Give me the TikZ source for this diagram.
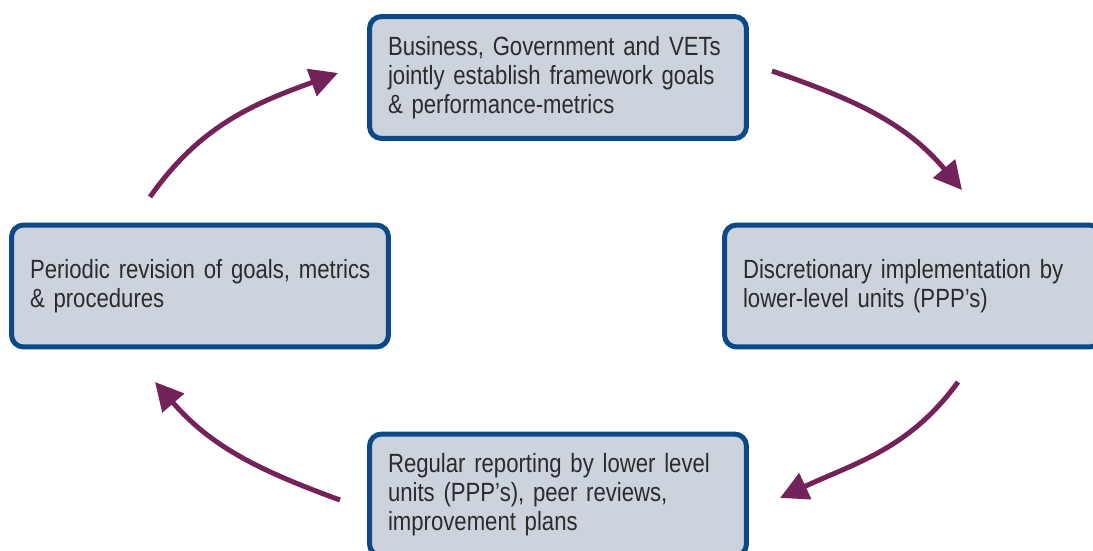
\documentclass[tikz,border=0pt]{standalone}
\usepackage{fontspec}
\setmainfont{Liberation Sans}[FakeStretch=0.84]
\usetikzlibrary{arrows.meta}
\definecolor{marco}{HTML}{0B4A86}
\definecolor{relleno}{HTML}{CCD3DC}
\definecolor{flecha}{HTML}{74235A}
\definecolor{texto}{HTML}{2B2B2B}
\begin{document}
\begin{tikzpicture}[x=0.02cm, y=0.02cm,
    caja/.style={draw=marco, fill=relleno, line width=0.1cm, rounded corners=0.24cm,
      minimum width=7.54cm, minimum height=2.44cm, text width=6.8cm, inner xsep=0.37cm,
      align=left, text=texto, font=\fontsize{15}{16.5}\selectfont},
    ciclo/.style={flecha, line width=0.1cm, -{Triangle[length=0.56cm, width=0.56cm]}}]
    \useasboundingbox (0,0) rectangle (1093,551);
    \clip (0,0) rectangle (1093,551);

    % Cajas del ciclo
    \node[caja] (metas) at (558,473.5) {Business, Government and VETs\\jointly establish framework goals\\\& performance-metrics};
    \node[caja] (implementa) at (913,265) {Discretionary implementation by\\lower-level units (PPP’s)};
    \node[caja] (reporta) at (558,56) {Regular reporting by lower level\\units (PPP’s), peer reviews,\\improvement plans};
    \node[caja] (revisa) at (200,265) {\mbox{Periodic revision of goals, metrics}\\\& procedures};

    % Extremos de las flechas
    \coordinate (a1) at (772,480);  \coordinate (b1) at (962,361);
    \coordinate (a2) at (958,169);  \coordinate (b2) at (780,53);
    \coordinate (a3) at (340,51);   \coordinate (b3) at (155,169);
    \coordinate (a4) at (150,354);  \coordinate (b4) at (338,478);

    % Flechas curvas entre las cajas
    \draw[ciclo] (a1) to[out=-19, in=130] (b1);
    \draw[ciclo] (a2) to[out=-126, in=25] (b2);
    \draw[ciclo] (a3) to[out=160, in=-49] (b3);
    \draw[ciclo] (a4) to[out=55, in=-160] (b4);
\end{tikzpicture}
\end{document}
